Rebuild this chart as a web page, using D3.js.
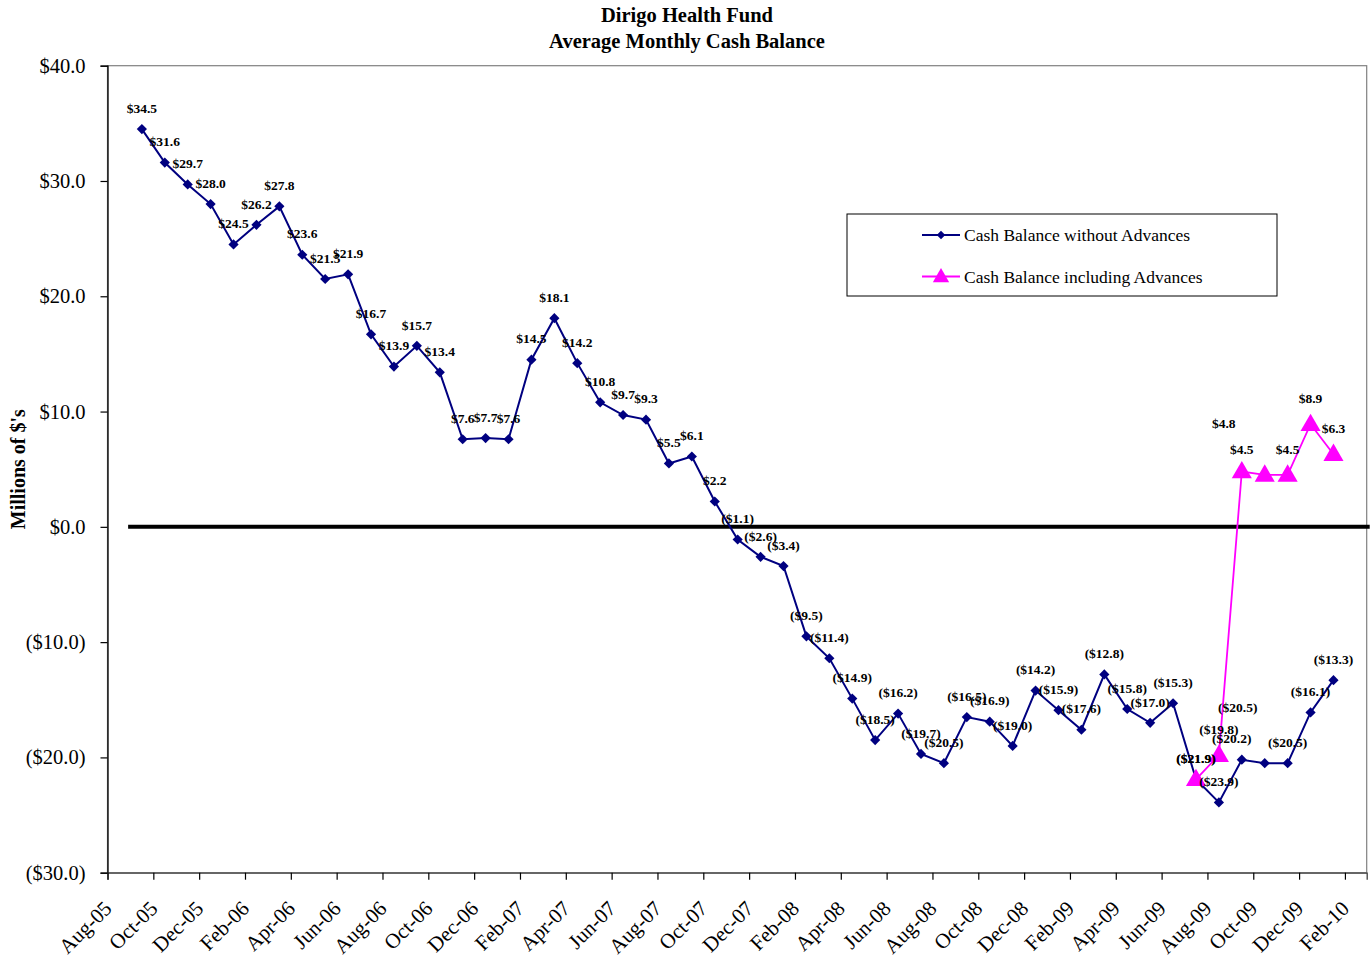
<!DOCTYPE html>
<html>
<head>
<meta charset="utf-8">
<script src="https://cdn.jsdelivr.net/npm/d3@7/dist/d3.min.js"></script>
<style>
  body { margin: 0; background: #fff; }
  text { font-family: "Liberation Serif", "Times New Roman", serif; }
</style>
</head>
<body>
<svg width="1370" height="955"></svg>
<script>
// monthly average cash balance, millions of dollars
var months = ["Sep-05","Oct-05","Nov-05","Dec-05","Jan-06","Feb-06","Mar-06","Apr-06","May-06","Jun-06",
  "Jul-06","Aug-06","Sep-06","Oct-06","Nov-06","Dec-06","Jan-07","Feb-07","Mar-07","Apr-07",
  "May-07","Jun-07","Jul-07","Aug-07","Sep-07","Oct-07","Nov-07","Dec-07","Jan-08","Feb-08",
  "Mar-08","Apr-08","May-08","Jun-08","Jul-08","Aug-08","Sep-08","Oct-08","Nov-08","Dec-08",
  "Jan-09","Feb-09","Mar-09","Apr-09","May-09","Jun-09","Jul-09","Aug-09","Sep-09","Oct-09",
  "Nov-09","Dec-09","Jan-10"];
var withoutAdvances = [34.5, 31.6, 29.7, 28.0, 24.5, 26.2, 27.8, 23.6, 21.5, 21.9,
  16.7, 13.9, 15.7, 13.4, 7.6, 7.7, 7.6, 14.5, 18.1, 14.2,
  10.8, 9.7, 9.3, 5.5, 6.1, 2.2, -1.1, -2.6, -3.4, -9.5,
  -11.4, -14.9, -18.5, -16.2, -19.7, -20.5, -16.5, -16.9, -19.0, -14.2,
  -15.9, -17.6, -12.8, -15.8, -17.0, -15.3, -21.9, -23.9, -20.2, -20.5,
  -20.5, -16.1, -13.3];
var advMonths = ["Jul-09","Aug-09","Sep-09","Oct-09","Nov-09","Dec-09","Jan-10"];
var withAdvances = [-21.9, -19.8, 4.8, 4.5, 4.5, 8.9, 6.3];

var tickLabels = ["Aug-05","Oct-05","Dec-05","Feb-06","Apr-06","Jun-06","Aug-06","Oct-06","Dec-06",
  "Feb-07","Apr-07","Jun-07","Aug-07","Oct-07","Dec-07","Feb-08","Apr-08","Jun-08","Aug-08",
  "Oct-08","Dec-08","Feb-09","Apr-09","Jun-09","Aug-09","Oct-09","Dec-09","Feb-10"];
var yTicks = [40, 30, 20, 10, 0, -10, -20, -30];

var seriesNames = ["Cash Balance without Advances", "Cash Balance including Advances"];

// a few data labels were dragged by hand in the original
var labelNudge = {
  "b48": [-10, 0], "b49": [-27, -35],
  "m48": [-18, -22], "m49": [-23, 0]
};

var parseMonth = d3.timeParse("%b-%y");
var start = parseMonth("Aug-05");
function monthIndex(m) { return d3.timeMonth.count(start, parseMonth(m)); }

function money(v) {
  var s = "$" + Math.abs(v).toFixed(1);
  return v < 0 ? "(" + s + ")" : s;
}

function drawChart() {
  var svg = d3.select("svg");
  var left = 107.5, right = 1366.7, plotTop = 65.7, plotBottom = 872.7;

  var x = d3.scaleLinear().domain([0, 54.95]).range([left, right]);
  var y = d3.scaleLinear().domain([-30, 40]).range([plotBottom, plotTop]);

  // title
  svg.append("text").attr("x", 687).attr("y", 22).attr("text-anchor", "middle")
    .style("font-size", "20.5px").style("font-weight", "bold").text("Dirigo Health Fund");
  svg.append("text").attr("x", 687).attr("y", 48).attr("text-anchor", "middle")
    .style("font-size", "20.5px").style("font-weight", "bold").text("Average Monthly Cash Balance");

  // plot area border
  svg.append("rect")
    .attr("x", left).attr("y", plotTop)
    .attr("width", right - left).attr("height", plotBottom - plotTop)
    .attr("fill", "none").attr("stroke", "#808080").attr("stroke-width", 1.2);

  // y axis
  var yAxis = svg.append("g")
    .attr("transform", "translate(" + left + ",0)")
    .call(d3.axisLeft(y).tickValues(yTicks).tickSize(7).tickPadding(15).tickFormat(money));
  yAxis.select(".domain").attr("stroke", "#000").attr("stroke-width", 1.3);
  yAxis.selectAll(".tick line").attr("stroke", "#000").attr("stroke-width", 1.2);
  yAxis.selectAll(".tick text")
    .style("font-size", "20.5px").style("font-family", "Liberation Serif, Times New Roman, serif")
    .attr("fill", "#000");

  svg.append("text")
    .attr("transform", "translate(25," + ((plotTop + plotBottom) / 2) + ") rotate(-90)")
    .attr("text-anchor", "middle")
    .style("font-size", "20px").style("font-weight", "bold")
    .text("Millions of $'s");

  // x axis
  var xAxis = svg.append("g")
    .attr("transform", "translate(0," + plotBottom + ")")
    .call(d3.axisBottom(x)
      .tickValues(tickLabels.map(monthIndex))
      .tickSize(7)
      .tickFormat(function(d, i) { return tickLabels[i]; }));
  xAxis.select(".domain").attr("stroke", "#404040").attr("stroke-width", 1.3);
  xAxis.selectAll(".tick line").attr("stroke", "#000").attr("stroke-width", 1.2);
  xAxis.selectAll(".tick text")
    .style("font-size", "21px").style("font-family", "Liberation Serif, Times New Roman, serif")
    .attr("fill", "#000")
    .attr("text-anchor", "end")
    .attr("y", 0).attr("dy", 0)
    .attr("transform", "translate(5,37) rotate(-45)");

  // zero reference line
  svg.append("line")
    .attr("x1", x(0.9)).attr("x2", right + 3)
    .attr("y1", y(0)).attr("y2", y(0))
    .attr("stroke", "#000").attr("stroke-width", 4);

  var blue = months.map(function(m, i) { return {m: monthIndex(m) + 0.5, v: withoutAdvances[i], key: "b" + i}; });
  var pink = advMonths.map(function(m, i) {
    var idx = months.indexOf(m);
    return {m: monthIndex(m) + 0.5, v: withAdvances[i], key: "m" + idx};
  });

  var line = d3.line().x(function(d) { return x(d.m); }).y(function(d) { return y(d.v); });

  svg.append("path").datum(blue)
    .attr("d", line).attr("fill", "none").attr("stroke", "#000080").attr("stroke-width", 2);
  svg.selectAll(".diamond").data(blue).enter().append("path")
    .attr("class", "diamond")
    .attr("d", d3.symbol().type(d3.symbolSquare).size(52))
    .attr("transform", function(d) { return "translate(" + x(d.m) + "," + y(d.v) + ") rotate(45)"; })
    .attr("fill", "#000080");

  svg.append("path").datum(pink)
    .attr("d", line).attr("fill", "none").attr("stroke", "#FF00FF").attr("stroke-width", 1.8);
  svg.selectAll(".tri").data(pink).enter().append("path")
    .attr("class", "tri")
    .attr("d", d3.symbol().type(d3.symbolTriangle).size(175))
    .attr("transform", function(d) { return "translate(" + x(d.m) + "," + (y(d.v) + 1) + ")"; })
    .attr("fill", "#FF00FF");

  // data labels
  function addLabels(data, lift) {
    svg.selectAll(null).data(data).enter().append("text")
      .attr("x", function(d) { var n = labelNudge[d.key]; return x(d.m) + (n ? n[0] : 0); })
      .attr("y", function(d) { var n = labelNudge[d.key]; return y(d.v) - lift + (n ? n[1] : 0); })
      .attr("dy", "0.35em")
      .attr("text-anchor", "middle")
      .style("font-size", "13.5px").style("font-weight", "bold")
      .text(function(d) { return money(d.v); });
  }
  addLabels(blue, 21);
  addLabels(pink.slice(0, 1), 21);
  addLabels(pink.slice(1), 26);

  // legend
  var lg = svg.append("g").attr("transform", "translate(847,214)");
  lg.append("rect").attr("width", 430).attr("height", 82)
    .attr("fill", "#fff").attr("stroke", "#000").attr("stroke-width", 1);
  var rows = lg.selectAll(".row").data(seriesNames).enter().append("g")
    .attr("transform", function(d, i) { return "translate(0," + (21 + i * 41.5) + ")"; });
  rows.append("line").attr("x1", 75).attr("x2", 113)
    .attr("stroke", function(d, i) { return i ? "#FF00FF" : "#000080"; })
    .attr("stroke-width", function(d, i) { return i ? 1.8 : 2; });
  rows.append("path")
    .attr("d", function(d, i) {
      return i ? d3.symbol().type(d3.symbolTriangle).size(115)() : d3.symbol().type(d3.symbolSquare).size(36)();
    })
    .attr("transform", function(d, i) { return "translate(94," + (i ? 1 : 0) + ") rotate(" + (i ? 0 : 45) + ")"; })
    .attr("fill", function(d, i) { return i ? "#FF00FF" : "#000080"; });
  rows.append("text").attr("x", 117).attr("dy", "0.35em")
    .style("font-size", "17.5px").text(function(d) { return d; });
}

drawChart();
</script>
</body>
</html>
